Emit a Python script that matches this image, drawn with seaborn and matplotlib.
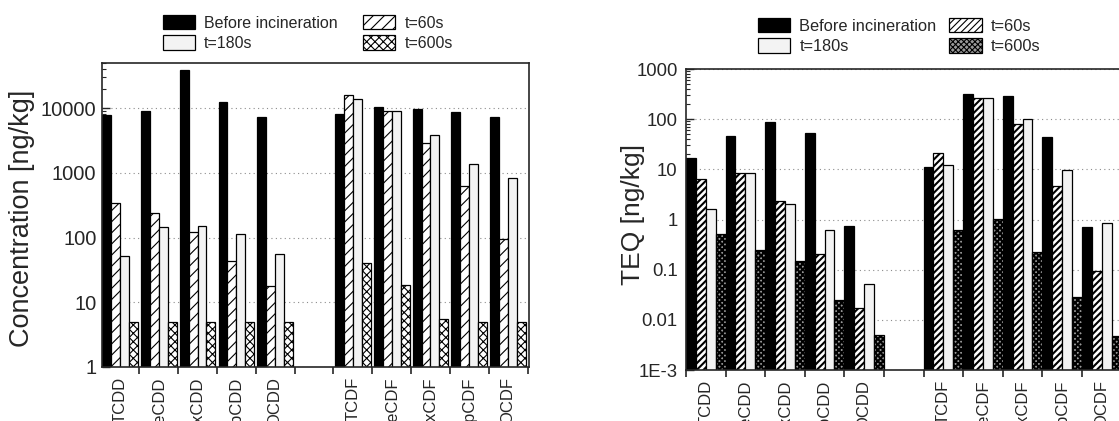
import numpy as np
import pandas as pd
import matplotlib
matplotlib.use("Agg")
import matplotlib.pyplot as plt
from matplotlib.ticker import FixedLocator, FuncFormatter, LogLocator, NullFormatter
import seaborn as sns

congeners = ["TCDD", "PeCDD", "HxCDD", "HpCDD", "OCDD",
             "TCDF", "PeCDF", "HxCDF", "HpCDF", "OCDF"]
series = ["Before incineration", "t=60s", "t=180s", "t=600s"]

# concentration [ng/kg]
conc_before = [7900, 8900, 38500, 12400, 7300, 8100, 10600, 9800, 8700, 7300]
conc_60s = [340, 240, 120, 44, 18, 16000, 9200, 2900, 620, 96]
conc_180s = [52, 145, 150, 115, 55, 14000, 9000, 3800, 1350, 820]
conc_600s = [5, 5, 5, 5, 5, 40, 18.5, 5.5, 5, 5]

# TEQ [ng/kg]
teq_before = [17, 47, 89, 52, 0.74, 11.3, 318, 294, 45, 0.72]
teq_60s = [6.4, 8.3, 2.3, 0.21, 0.017, 20.8, 264, 80, 4.7, 0.095]
teq_180s = [1.6, 8.6, 2.0, 0.62, 0.053, 12.2, 264, 99, 9.7, 0.86]
teq_600s = [0.51, 0.25, 0.15, 0.025, 0.005, 0.62, 1.02, 0.23, 0.029, 0.0048]

gap = " "
order = congeners[:5] + [gap] + congeners[5:]


def to_long(before, t60, t180, t600):
    rows = []
    for vals, name in zip([before, t60, t180, t600], series):
        for c, v in zip(congeners, vals):
            rows.append({"congener": c, "series": name, "value": v})
    return pd.DataFrame(rows)


sns.set_style("ticks")
plt.rcParams["font.family"] = ["Liberation Sans", "DejaVu Sans"]
plt.rcParams["hatch.linewidth"] = 0.8


def draw_panel(ax, df, width, styles, hatch_lw):
    sns.barplot(data=df, x="congener", y="value", hue="series",
                order=order, hue_order=series, width=width, gap=0,
                errorbar=None, legend=False, ax=ax)
    ax.set_yscale("log")
    for cont, (fc, hatch) in zip(ax.containers, styles):
        for p in cont:
            p.set_facecolor(fc)
            p.set_edgecolor("black")
            p.set_linewidth(0.9)
            p.set_hatch(hatch)
            if hasattr(p, "set_hatch_linewidth"):
                p.set_hatch_linewidth(hatch_lw)
    ax.set_xlabel("")
    ax.set_xticks(range(len(order)))
    ax.set_xticklabels(order)
    ax.tick_params(axis="x", which="major", length=0, labelsize=12,
                   labelrotation=90, pad=7)
    ax.xaxis.set_minor_locator(FixedLocator(np.arange(-0.5, 11, 1)))
    ax.tick_params(axis="x", which="minor", length=5, width=1.2, direction="out")
    ax.yaxis.set_minor_locator(LogLocator(base=10, subs=np.arange(2, 10)))
    ax.yaxis.set_minor_formatter(NullFormatter())
    ax.tick_params(axis="y", which="major", direction="in", length=6, width=1)
    ax.tick_params(axis="y", which="minor", direction="in", length=3, width=0.8)
    ax.grid(axis="y", which="major", linestyle=(0, (1, 3)), color="0.55", lw=0.8)
    ax.set_axisbelow(True)
    for s in ax.spines.values():
        s.set_linewidth(1.2)
        s.set_visible(True)


fig = plt.figure(figsize=(11.19, 4.21), dpi=100)
ax1 = fig.add_axes([0.0912, 0.1283, 0.3816, 0.7221])
ax2 = fig.add_axes([0.6130, 0.1211, 0.3893, 0.7150])

left_styles = [("black", ""), ("white", "///"), ("#f3f3f3", ""), ("white", "xxxx")]
right_styles = [("black", ""), ("white", "/////"), ("#f3f3f3", ""), ("#9a9a9a", "xxxxxx")]

draw_panel(ax1, to_long(conc_before, conc_60s, conc_180s, conc_600s),
           0.92, left_styles, 0.8)
ax1.set_xlim(-0.46, 10.54)
ax1.set_ylim(1, 5e4)
ax1.yaxis.set_major_locator(FixedLocator([1, 10, 100, 1000, 10000]))
ax1.yaxis.set_major_formatter(FuncFormatter(lambda v, p: f"{v:g}"))
ax1.tick_params(axis="y", which="major", labelsize=14.5, pad=4)
ax1.set_ylabel("Concentration [ng/kg]", fontsize=19.5)
ax1.yaxis.set_label_coords(-0.158, 0.49)

draw_panel(ax2, to_long(teq_before, teq_60s, teq_180s, teq_600s),
           1.0, right_styles, 1.5)
ax2.set_xlim(-0.5, 10.5)
ax2.set_ylim(1e-3, 1e3)
teq_ticks = [1e-3, 1e-2, 1e-1, 1, 10, 100, 1000]
ax2.yaxis.set_major_locator(FixedLocator(teq_ticks))
ax2.yaxis.set_major_formatter(
    FuncFormatter(lambda v, p: "1E-3" if abs(v - 1e-3) < 1e-9 else f"{v:g}"))
ax2.tick_params(axis="y", which="major", labelsize=13.3, pad=6)
ax2.set_ylabel("TEQ [ng/kg]", fontsize=19)
ax2.yaxis.set_label_coords(-0.095, 0.515)

# legends, column-first filling gives the two-row layout of the original
leg_idx = [0, 2, 1, 3]
fig.legend(handles=[ax1.containers[i] for i in leg_idx],
           labels=[series[i] for i in leg_idx],
           ncol=2, loc="center", bbox_to_anchor=(308 / 1119, 1 - 33 / 421),
           frameon=False, fontsize=11.5, handlelength=2.0, handleheight=1.0,
           handletextpad=0.6, columnspacing=1.6, labelspacing=0.3, borderpad=0)
fig.legend(handles=[ax2.containers[i] for i in leg_idx],
           labels=[series[i] for i in leg_idx],
           ncol=2, loc="center", bbox_to_anchor=(899 / 1119, 1 - 36 / 421),
           frameon=False, fontsize=11.8, handlelength=2.0, handleheight=1.0,
           handletextpad=0.55, columnspacing=0.75, labelspacing=0.3, borderpad=0)

fig.savefig("out.png", dpi=100)
